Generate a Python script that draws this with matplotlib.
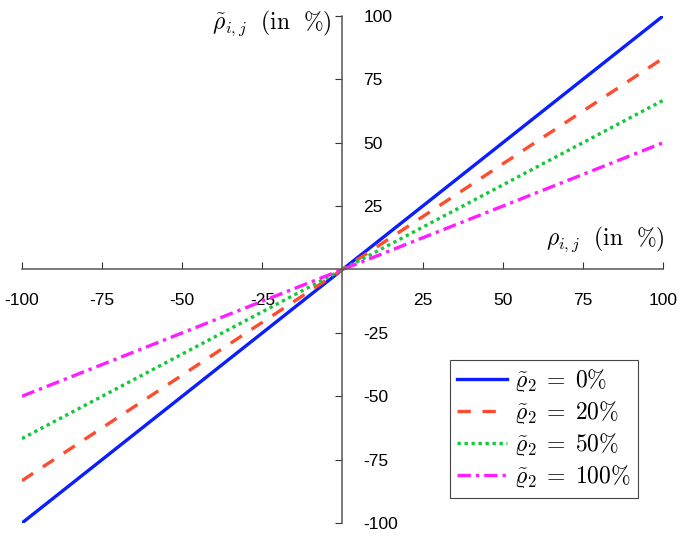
import matplotlib
matplotlib.use('Agg')
import matplotlib.pyplot as plt

plt.rcParams['mathtext.fontset'] = 'cm'
plt.rcParams['font.family'] = ['Liberation Sans', 'DejaVu Sans']

# datos: rectas por el origen, extremos
rho = [-100, 100]
rho_0 = [-100, 100]
rho_20 = [-83.3, 83.3]
rho_50 = [-66.7, 66.7]
rho_100 = [-50, 50]
ticks = [-100, -75, -50, -25, 25, 50, 75, 100]
etiquetas = ['$\\tilde{\\varrho}_2\\;=\\;0\\%$', '$\\tilde{\\varrho}_2\\;=\\;20\\%$',
             '$\\tilde{\\varrho}_2\\;=\\;50\\%$', '$\\tilde{\\varrho}_2\\;=\\;100\\%$']

fig = plt.figure(figsize=(6.86, 5.44), dpi=100)
ax = fig.add_axes([0.032, 0.0386, 0.9345, 0.932])

ax.plot(rho, rho_0, color='#0a1eff', lw=2.4, ls='-', label=etiquetas[0])
ax.plot(rho, rho_20, color='#ff4b2e', lw=2.4, ls=(0, (4, 3.5)), label=etiquetas[1])
ax.plot(rho, rho_50, color='#14c83c', lw=2.4, ls=(0, (1, 1.1)), label=etiquetas[2])
ax.plot(rho, rho_100, color='#ff1eff', lw=2.4, ls=(0, (4, 1.5, 1, 1.5)), label=etiquetas[3])

ax.set_xlim(-100, 100)
ax.set_ylim(-100, 100)

'''ejes cruzando en el origen'''
for s in ['top', 'right']:
    ax.spines[s].set_visible(False)
ax.spines['left'].set_position('zero')
ax.spines['bottom'].set_position('zero')
for s in ['left', 'bottom']:
    ax.spines[s].set_color('#555555')
    ax.spines[s].set_linewidth(1.1)

ax.set_xticks(ticks)
ax.set_yticks(ticks)
ax.set_xticklabels([str(t) for t in ticks])
ax.set_yticklabels([str(t) for t in ticks])
ax.tick_params(axis='x', direction='in', length=5, color='#333333', labelsize=12.5, pad=17)
ax.tick_params(axis='y', direction='out', length=5, color='#333333', labelsize=12.5,
               left=True, labelleft=True, right=False, labelright=False, pad=-20)
for lab in ax.get_yticklabels():
    lab.set_horizontalalignment('left')

ax.text(-3.5, 97, '$\\tilde{\\rho}_{i,j}\\ \\ (\\mathrm{in}\\ \\ \\%)$', fontsize=17, ha='right', va='center')
ax.text(100.5, 12, '$\\rho_{i,j}\\ \\ (\\mathrm{in}\\ \\ \\%)$', fontsize=17, ha='right', va='center')

leg = ax.legend(loc='lower right', bbox_to_anchor=(0.979, 0.027), fontsize=17,
                fancybox=False, edgecolor='#444444', framealpha=1,
                handlelength=2.1, handletextpad=0.3, borderpad=0.3, labelspacing=0.22)
leg.get_frame().set_linewidth(0.8)

plt.savefig('out.png', dpi=100)
